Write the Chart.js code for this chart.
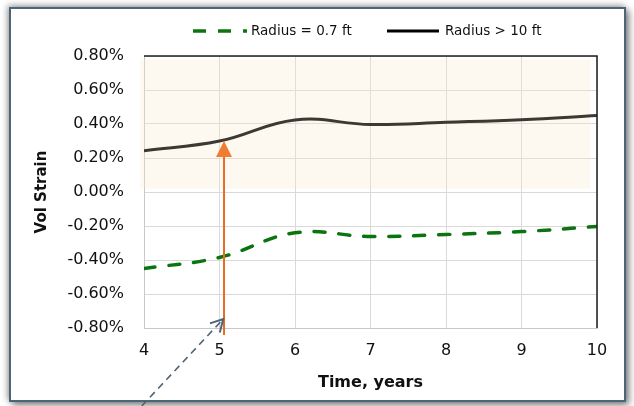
<!DOCTYPE html>
<html>
<head>
<meta charset="utf-8">
<script src="https://cdn.jsdelivr.net/npm/chart.js@4"></script>
<style>
  html, body { margin: 0; padding: 0; background: #fff; }
  #wrap { position: relative; width: 634px; height: 406px; overflow: hidden; }
  #frame {
    position: absolute; left: 9px; top: 7px; width: 613px; height: 391px;
    border: 2px solid #4d6576; background: #fff;
    box-shadow: 3px 3px 7px rgba(0, 0, 0, 0.5), -2px -2px 6px rgba(0, 0, 0, 0.3);
  }
  #chart { position: absolute; left: 0; top: 0; }
</style>
</head>
<body>
<div id="wrap">
  <div id="frame"></div>
  <canvas id="chart" width="634" height="406"></canvas>
</div>
<script>
(function () {
  const years = [4, 5, 6, 7, 8, 9, 10];
  const nearWell = [-0.45, -0.385, -0.24, -0.262, -0.25, -0.233, -0.203];
  const farField = [0.243, 0.30, 0.424, 0.397, 0.41, 0.425, 0.45];
  const seriesNames = ["Radius = 0.7 ft", "Radius > 10 ft"];
  const yTicks = [-0.8, -0.6, -0.4, -0.2, 0, 0.2, 0.4, 0.6, 0.8];

  const font = "'DejaVu Sans', sans-serif";
  const green = "#0b740f";
  const dark = "#3b3932";

  // shaded band, orange marker and the pointer arrow (data units)
  const band = { x0: 3.95, x1: 9.91, y0: 0.02, y1: 0.78 };
  const marker = { x: 5.06, y: 0.30, yEnd: -0.841 };
  const pointer = { x0: 3.97, y0: -1.259, x1: 5.05, y1: -0.747 };

  const decorations = {
    id: "decorations",
    beforeDatasetsDraw(chart) {
      const { ctx, scales: { x, y } } = chart;
      ctx.save();
      ctx.fillStyle = "rgba(248, 234, 205, 0.3)";
      ctx.fillRect(x.getPixelForValue(band.x0), y.getPixelForValue(band.y1),
        x.getPixelForValue(band.x1) - x.getPixelForValue(band.x0),
        y.getPixelForValue(band.y0) - y.getPixelForValue(band.y1));
      ctx.restore();
    },
    afterDatasetsDraw(chart) {
      const { ctx, chartArea: a, scales: { x, y } } = chart;
      ctx.save();
      // dark top / right edges of the plot box
      ctx.strokeStyle = "#1e1e1e";
      ctx.lineWidth = 1.5;
      ctx.beginPath();
      ctx.moveTo(a.left, a.top);
      ctx.lineTo(a.right, a.top);
      ctx.lineTo(a.right, a.bottom);
      ctx.stroke();

      // orange arrow
      const mx = x.getPixelForValue(marker.x);
      const tip = y.getPixelForValue(marker.y);
      ctx.strokeStyle = "#ea6a24";
      ctx.lineWidth = 2;
      ctx.beginPath();
      ctx.moveTo(mx, tip + 12);
      ctx.lineTo(mx, y.getPixelForValue(marker.yEnd));
      ctx.stroke();
      ctx.fillStyle = "#ed7d31";
      ctx.beginPath();
      ctx.moveTo(mx, tip);
      ctx.lineTo(mx - 8, tip + 16);
      ctx.lineTo(mx + 8, tip + 16);
      ctx.closePath();
      ctx.fill();

      // dashed pointer
      const px0 = x.getPixelForValue(pointer.x0), py0 = y.getPixelForValue(pointer.y0);
      const px1 = x.getPixelForValue(pointer.x1), py1 = y.getPixelForValue(pointer.y1);
      const ang = Math.atan2(py1 - py0, px1 - px0);
      ctx.strokeStyle = "#4d6576";
      ctx.lineWidth = 1.6;
      ctx.setLineDash([7, 5]);
      ctx.beginPath();
      ctx.moveTo(px0, py0);
      ctx.lineTo(px1, py1);
      ctx.stroke();
      ctx.setLineDash([]);
      ctx.lineWidth = 2;
      ctx.beginPath();
      ctx.moveTo(px1 - 14 * Math.cos(ang - 0.5), py1 - 14 * Math.sin(ang - 0.5));
      ctx.lineTo(px1, py1);
      ctx.lineTo(px1 - 14 * Math.cos(ang + 0.5), py1 - 14 * Math.sin(ang + 0.5));
      ctx.stroke();
      ctx.restore();
    },
    afterDraw(chart) {
      const ctx = chart.ctx;
      const ly = 31;
      ctx.save();
      ctx.lineCap = "butt";
      ctx.strokeStyle = green;
      ctx.lineWidth = 3.5;
      ctx.setLineDash([13, 12]);
      ctx.beginPath();
      ctx.moveTo(193, ly);
      ctx.lineTo(247, ly);
      ctx.stroke();
      ctx.setLineDash([]);
      ctx.strokeStyle = "#000";
      ctx.lineWidth = 3;
      ctx.beginPath();
      ctx.moveTo(387, ly);
      ctx.lineTo(439, ly);
      ctx.stroke();
      ctx.fillStyle = "#111";
      ctx.font = "13.5px " + font;
      ctx.textBaseline = "middle";
      ctx.fillText(chart.data.datasets[0].label, 251, ly);
      ctx.fillText(chart.data.datasets[1].label, 445, ly);
      ctx.restore();
    },
  };

  new Chart(document.getElementById("chart"), {
    type: "line",
    data: {
      datasets: [
        {
          label: seriesNames[0],
          data: years.map((t, i) => ({ x: t, y: nearWell[i] })),
          borderColor: green,
          borderWidth: 3.5,
          borderDash: [11, 14],
          borderCapStyle: "round",
          pointRadius: 0,
          tension: 0.4,
        },
        {
          label: seriesNames[1],
          data: years.map((t, i) => ({ x: t, y: farField[i] })),
          borderColor: dark,
          borderWidth: 3,
          pointRadius: 0,
          tension: 0.4,
        },
      ],
    },
    options: {
      responsive: false,
      animation: false,
      devicePixelRatio: 1,
      layout: { padding: { left: 24, right: 37, top: 56, bottom: 10 } },
      plugins: { legend: { display: false }, tooltip: { enabled: false } },
      scales: {
        x: {
          type: "linear",
          min: years[0],
          max: years[years.length - 1],
          afterBuildTicks: (s) => { s.ticks = years.map((v) => ({ value: v })); },
          afterFit: (s) => { s.height = 68; },
          ticks: { color: "#111", font: { family: font, size: 16 }, padding: 13 },
          grid: { color: "#d9d9d9", drawTicks: false },
          border: { color: "#c8c8c8" },
          title: { display: true, text: "Time, years", color: "#111", font: { family: font, size: 16, weight: "bold" }, padding: { top: 0, bottom: 4 } },
        },
        y: {
          type: "linear",
          min: yTicks[0],
          max: yTicks[yTicks.length - 1],
          afterBuildTicks: (s) => { s.ticks = yTicks.map((v) => ({ value: v })); },
          afterFit: (s) => { s.width = 120; },
          ticks: { color: "#111", font: { family: font, size: 16 }, padding: 20, callback: (v) => v.toFixed(2) + "%" },
          grid: { color: "#d9d9d9", drawTicks: false },
          border: { color: "#c8c8c8" },
          title: { display: true, text: "Vol Strain", color: "#111", font: { family: font, size: 15, weight: "bold" }, padding: { top: 9, bottom: 0 } },
        },
      },
    },
    plugins: [decorations],
  });
})();
</script>
</body>
</html>
